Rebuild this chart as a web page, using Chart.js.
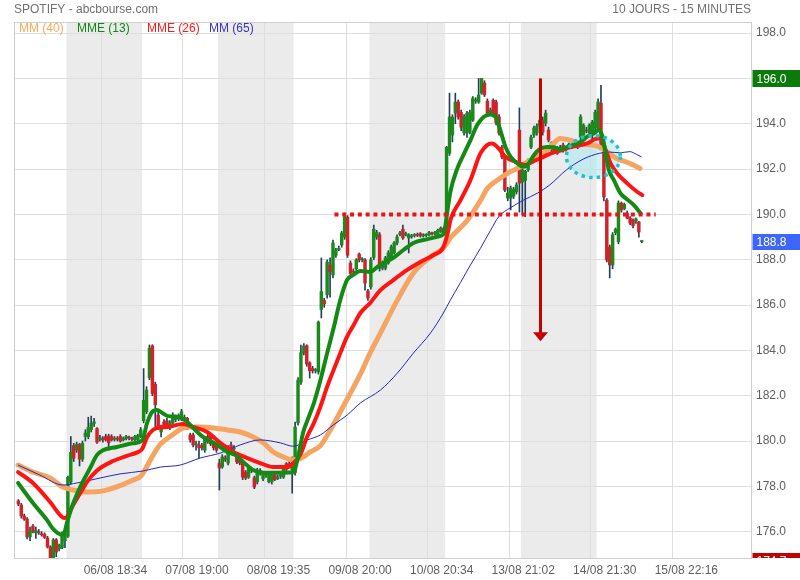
<!DOCTYPE html>
<html lang="fr">
<head>
<meta charset="utf-8">
<title>SPOTIFY - abcbourse.com</title>
<script src="https://cdn.jsdelivr.net/npm/chart.js@4.4.1/dist/chart.umd.min.js"></script>
<style>
html, body { margin: 0; padding: 0; background: #ffffff; }
canvas { display: block; }
</style>
</head>
<body>
<canvas id="chart" width="800" height="580" style="width:800px;height:580px"></canvas>
<script>
// ---------- texts ----------
const chartTitle = 'SPOTIFY - abcbourse.com';
const periodLabel = '10 JOURS - 15 MINUTES';
const maLabels = ['MM (40)', 'MME (13)', 'MME (26)', 'MM (65)'];

// ---------- x axis (15-minute slots) ----------
const slotCount = 253;
const xTickBars = [30, 58, 86, 114, 142, 170, 198, 226];
const xTickLabels = ['06/08 18:34', '07/08 19:00', '08/08 19:35', '09/08 20:00',
                     '10/08 20:34', '13/08 21:02', '14/08 21:30', '15/08 22:16'];
const shadedDays = [[18, 43], [70, 95], [122, 147], [174, 199]];

// ---------- y axis ----------
const yMin = 174.84, yMax = 198.49;
const yTicks = [176, 178, 180, 182, 184, 186, 188, 190, 192, 194, 196, 198];

// ---------- OHLC (one value per 15-minute bar) ----------
const opens = [
  null, 177.36, 177.18, 176.70, 176.56, 175.77, 176.25, 175.95, 176.00, 175.90, 175.88, 175.72, 175.33, 174.85, 175.64, 175.25, 175.30, 175.60,
  175.80, 178.20, 179.80, 179.60, 179.85, 179.20, 180.20, 180.20, 180.50, 180.78, 180.55, 180.10, 180.10, 180.20, 180.22, 180.20, 180.08, 180.12, 180.20, 180.05, 180.10, 180.15, 180.10, 180.05, 180.05, 180.20,
  180.90, 181.30, 182.80, 184.20, 182.50, 181.15, 180.40, 180.84, 180.90, 180.62, 180.80, 180.95, 181.05, 180.98, 181.05, 181.00, 180.27, 180.27, 179.83, 179.83, 179.80, 179.60, 180.20, 180.22, 179.92, 179.83,
  179.03, 178.86, 179.25, 179.03, 179.83, 179.65, 179.40, 179.25, 179.08, 178.63, 178.41, 178.75, 178.37, 178.20, 178.60, 178.33, 178.50, 178.20, 178.20, 178.50, 178.35, 178.45, 178.41, 179.00, 179.00, 178.72,
  178.60, 180.80, 182.60, 183.90, 184.20, 183.45, 183.20, 183.10, 183.05, 185.80, 186.20, 186.45, 187.77, 187.33, 188.20, 188.45, 188.65, 189.00, 189.88, 187.85, 187.50, 187.60, 188.25, 188.00, 187.99, 186.62,
  186.80, 188.10, 189.00, 189.10, 187.63, 187.63, 187.85, 188.08, 188.30, 188.74, 189.12, 189.35, 189.10, 188.96, 189.02, 189.08, 189.12, 189.15, 189.05, 189.08, 189.10, 189.18, 189.14, 189.10, 189.25, 189.38,
  189.20, 192.70, 193.50, 194.47, 194.96, 194.50, 193.60, 193.59, 193.63, 194.16, 195.00, 194.96, 195.35, 195.80, 195.00, 194.50, 195.04, 194.96, 194.30, 192.97, 192.53, 190.72, 190.72, 190.80, 191.00, 193.72,
  191.43, 191.50, 191.96, 192.97, 193.50, 193.60, 193.90, 194.16, 194.03, 193.72, 192.84, 192.97, 192.90, 192.93, 193.06, 192.88, 192.95, 193.02, 193.02, 192.97, 193.41, 193.50, 193.72, 193.60, 193.63, 193.81,
  193.81, 194.90, 193.10, 190.63, 188.56, 187.77, 189.20, 188.80, 190.50, 190.25, 190.06, 189.84, 189.75, 189.70, 189.66, 188.80
];
const highs = [
  null, 177.42, 177.25, 176.78, 176.62, 176.20, 176.32, 176.20, 176.10, 176.00, 175.95, 175.80, 175.38, 175.70, 175.70, 175.45, 176.00, 176.00,
  178.45, 180.20, 179.90, 179.95, 179.90, 180.00, 180.50, 181.05, 181.10, 181.00, 180.60, 180.25, 180.20, 180.30, 180.30, 180.28, 180.20, 180.20, 180.28, 180.18, 180.25, 180.22, 180.18, 180.25, 180.30, 180.60,
  183.20, 182.40, 184.24, 184.25, 182.60, 181.30, 180.70, 180.95, 181.00, 180.90, 181.25, 181.15, 181.20, 181.40, 181.15, 181.05, 180.35, 180.35, 180.00, 180.00, 179.90, 180.20, 180.30, 180.30, 180.00, 179.90,
  179.20, 179.40, 179.35, 179.80, 179.95, 179.80, 179.50, 179.35, 179.15, 178.70, 178.90, 178.85, 178.45, 178.80, 178.78, 178.65, 178.60, 178.65, 178.55, 178.55, 178.50, 178.55, 178.90, 179.05, 179.10, 179.30,
  180.84, 182.80, 184.24, 184.30, 184.25, 183.50, 183.30, 183.20, 185.30, 188.08, 186.30, 188.00, 188.08, 188.87, 188.50, 188.60, 189.25, 190.06, 189.95, 187.95, 187.60, 188.05, 188.30, 188.10, 188.05, 186.70,
  188.10, 189.53, 189.30, 189.20, 187.95, 188.15, 188.40, 188.65, 188.80, 189.10, 189.25, 189.53, 189.22, 189.15, 189.12, 189.15, 189.18, 189.20, 189.15, 189.15, 189.25, 189.22, 189.25, 189.35, 189.45, 189.45,
  193.00, 195.35, 194.40, 195.35, 195.05, 194.60, 194.40, 194.55, 194.60, 195.20, 195.15, 196.00, 196.00, 195.90, 195.10, 194.70, 195.10, 195.05, 194.40, 193.05, 192.60, 191.20, 191.25, 191.20, 191.40, 194.70,
  192.00, 191.95, 192.45, 193.50, 193.90, 194.00, 194.30, 194.30, 194.60, 193.85, 193.20, 193.05, 193.00, 193.05, 193.15, 192.98, 193.15, 193.10, 193.12, 193.25, 194.40, 194.00, 193.85, 194.00, 194.15, 194.60,
  195.10, 195.70, 193.20, 190.70, 188.65, 189.20, 189.40, 190.60, 190.55, 190.50, 190.15, 189.90, 189.80, 189.85, 189.70, 188.85
];
const lows = [
  null, 177.15, 176.60, 176.50, 175.68, 175.60, 175.95, 175.70, 175.88, 175.80, 175.70, 175.28, 174.70, 174.80, 174.90, 175.15, 175.25, 175.30,
  175.75, 178.10, 179.10, 179.50, 178.90, 179.10, 180.00, 180.10, 180.40, 180.65, 179.90, 180.00, 179.95, 180.00, 179.60, 180.00, 180.00, 180.00, 179.95, 180.00, 180.05, 180.05, 180.02, 180.00, 180.00, 180.15,
  180.80, 181.20, 182.70, 182.00, 180.60, 180.50, 180.18, 180.55, 180.55, 180.50, 180.70, 180.85, 180.90, 180.90, 180.90, 180.50, 179.95, 179.74, 179.60, 179.25, 179.60, 179.50, 179.90, 179.80, 179.60, 179.50,
  177.84, 178.80, 179.10, 178.95, 179.50, 179.55, 179.00, 178.95, 178.30, 178.30, 178.35, 178.60, 177.90, 178.10, 178.50, 178.25, 178.40, 178.15, 178.10, 178.25, 178.30, 178.35, 178.35, 178.70, 178.85, 177.70,
  178.50, 180.70, 182.50, 183.80, 183.30, 182.78, 183.00, 183.00, 182.95, 185.43, 185.90, 186.30, 186.35, 187.20, 188.10, 188.40, 188.55, 188.90, 188.10, 187.30, 187.35, 187.50, 187.90, 187.90, 186.66, 186.20,
  186.70, 188.00, 188.90, 187.50, 187.55, 187.55, 187.80, 188.00, 188.25, 188.65, 189.05, 188.90, 189.05, 188.30, 188.95, 189.00, 189.02, 189.00, 189.00, 189.02, 189.05, 189.08, 189.10, 189.05, 189.20, 189.15,
  189.10, 192.60, 193.20, 194.00, 194.20, 193.70, 193.50, 193.40, 193.55, 194.10, 194.90, 194.90, 195.30, 195.20, 194.40, 194.40, 194.30, 193.95, 193.50, 192.45, 191.00, 190.60, 190.20, 190.70, 190.90, 190.10,
  190.00, 189.90, 191.90, 192.90, 193.40, 193.50, 193.70, 193.50, 193.90, 193.20, 192.75, 192.70, 192.65, 192.85, 192.75, 192.80, 192.90, 192.90, 192.95, 192.90, 193.30, 193.40, 193.60, 193.50, 193.20, 193.70,
  193.70, 192.90, 190.60, 187.90, 187.20, 187.60, 189.10, 188.70, 190.10, 190.20, 189.80, 189.55, 189.40, 189.60, 189.00, 188.75
];
const closes = [
  null, 177.22, 176.70, 176.55, 175.77, 176.04, 175.99, 176.05, 175.95, 175.86, 175.75, 175.33, 174.85, 175.64, 175.10, 175.40, 175.95, 175.90,
  178.40, 179.50, 179.25, 179.85, 179.20, 179.90, 180.35, 180.60, 180.80, 180.85, 179.95, 180.15, 180.05, 180.05, 179.92, 180.05, 180.12, 180.08, 180.00, 180.12, 180.20, 180.13, 180.08, 180.20, 180.25, 180.50,
  181.80, 182.25, 184.10, 182.10, 181.60, 180.62, 180.62, 180.62, 180.62, 180.80, 181.15, 181.05, 181.00, 181.30, 181.00, 180.60, 180.05, 179.83, 179.85, 179.70, 179.70, 180.14, 179.96, 179.87, 179.70, 179.60,
  178.81, 179.30, 179.20, 179.70, 179.60, 179.70, 179.08, 179.03, 178.41, 178.37, 178.81, 178.70, 177.97, 178.72, 178.70, 178.59, 178.52, 178.59, 178.50, 178.30, 178.42, 178.47, 178.81, 178.75, 178.90, 179.03,
  180.62, 182.69, 183.90, 184.20, 183.40, 183.10, 183.10, 183.15, 185.25, 186.60, 186.05, 187.90, 187.46, 188.74, 188.43, 188.50, 189.18, 189.90, 188.20, 187.40, 187.45, 187.99, 187.99, 188.02, 186.97, 186.31,
  187.99, 189.35, 189.20, 187.63, 187.85, 188.08, 188.30, 188.56, 188.74, 189.00, 189.18, 188.96, 189.15, 189.10, 189.06, 189.12, 189.08, 189.05, 189.10, 189.12, 189.20, 189.14, 189.20, 189.30, 189.40, 189.20,
  192.97, 194.30, 194.30, 194.96, 194.30, 193.85, 194.30, 194.47, 194.50, 195.13, 195.04, 195.27, 196.00, 195.27, 194.47, 194.60, 194.38, 194.03, 193.59, 192.53, 191.07, 190.94, 191.16, 191.10, 191.30, 191.38,
  191.96, 191.90, 192.40, 193.41, 193.81, 193.90, 194.16, 193.63, 194.47, 193.28, 193.15, 192.75, 192.70, 192.97, 192.84, 192.92, 193.10, 193.00, 193.06, 193.19, 194.30, 193.94, 193.68, 193.94, 194.07, 194.50,
  194.96, 193.10, 190.77, 187.99, 187.77, 189.10, 189.35, 190.50, 190.20, 190.45, 189.84, 189.62, 189.50, 189.80, 189.22, 188.80
];

// ---------- moving averages: [bar slot, value] ----------
const mm40 = [[0.9,178.94],[6.0,178.63],[11.9,178.37],[16.3,177.97],[19.8,177.84],[24.6,177.75],[30.1,177.8],[35.9,178.03],[40.4,178.28],[43.0,178.45],[45.2,178.9],[47.3,179.39],[49.7,179.85],[53.1,180.2],[57.6,180.58],[60.0,180.62],[63.4,180.62],[67.9,180.58],[72.7,180.49],[77.2,180.4],[81.6,180.18],[85.1,179.92],[88.5,179.52],[91.9,179.3],[95.4,179.17],[98.8,179.3],[101.2,179.52],[104.7,179.8],[108.1,180.49],[111.5,181.28],[115.0,182.12],[118.4,182.95],[121.8,183.9],[125.3,184.77],[131.1,186.22],[136.6,187.41],[142.5,188.12],[146.9,188.52],[149.3,188.96],[155.2,189.75],[159.7,190.63],[162.0,191.15],[165.5,191.52],[168.9,191.81],[172.3,192.03],[175.8,192.32],[179.2,192.54],[182.6,192.84],[184.5,193.1],[186.9,193.35],[190.4,193.28],[194.9,193.1],[199.5,193.02],[203.0,192.77],[206.4,192.47],[211.0,192.25],[214.4,192.03]];
const mme13 = [[0.9,178.15],[6.0,177.27],[10.8,176.52],[12.9,176.12],[16.0,175.86],[16.8,175.95],[17.7,176.4],[19.4,177.1],[22.9,178.15],[25.6,178.8],[28.0,179.39],[30.1,179.6],[34.9,179.74],[40.4,179.9],[43.5,180.02],[45.2,180.8],[46.9,181.28],[48.6,181.37],[50.4,181.24],[52.4,181.1],[55.9,181.06],[59.0,180.84],[61.0,180.58],[64.4,180.18],[69.3,179.83],[72.7,179.52],[75.4,179.39],[78.2,179.08],[81.6,178.72],[85.1,178.6],[88.5,178.6],[91.9,178.6],[95.4,178.62],[97.0,179.3],[98.8,180.4],[100.2,180.9],[102.5,181.7],[104.7,182.69],[107.0,183.88],[109.3,185.03],[111.5,186.22],[113.8,187.1],[116.0,187.33],[118.4,187.5],[121.8,187.46],[124.2,187.68],[126.3,187.85],[129.7,188.08],[133.2,188.43],[136.6,188.74],[141.4,188.91],[145.9,189.05],[147.2,189.18],[147.9,189.8],[149.3,191.0],[151.6,192.0],[153.9,192.65],[156.2,193.28],[158.5,193.94],[160.8,194.31],[163.1,194.41],[164.8,194.31],[165.9,193.94],[167.1,193.43],[168.2,192.98],[170.0,192.54],[172.3,192.25],[174.5,192.1],[176.2,192.25],[178.0,192.62],[180.3,192.91],[182.6,192.98],[184.8,192.96],[187.1,192.87],[189.4,192.98],[194.0,193.2],[196.3,193.43],[198.6,193.58],[200.3,193.72],[201.5,193.43],[202.6,192.69],[203.7,191.96],[205.4,191.52],[207.7,190.93],[209.5,190.71],[212.3,190.41],[214.6,190.05]];
const mme26 = [[0.9,178.63],[6.0,178.15],[11.9,177.31],[16.0,176.65],[17.0,176.6],[19.8,177.18],[22.2,177.7],[24.6,178.2],[28.0,178.7],[33.5,179.12],[38.3,179.35],[41.8,179.5],[43.5,179.65],[45.2,180.18],[47.3,180.5],[49.7,180.6],[52.1,180.62],[57.6,180.75],[61.0,180.62],[65.8,180.4],[70.3,179.92],[74.8,179.52],[79.6,179.25],[84.0,179.03],[88.5,178.85],[93.3,178.85],[95.4,179.03],[97.8,179.4],[100.1,180.19],[102.4,180.78],[104.7,181.52],[107.0,182.4],[109.2,183.13],[111.5,183.88],[113.8,184.6],[116.1,185.12],[118.4,185.65],[121.8,186.1],[125.3,186.66],[129.7,187.1],[134.5,187.55],[139.0,187.9],[143.5,188.21],[146.9,188.56],[148.6,189.3],[149.3,189.75],[152.8,190.63],[156.2,191.52],[159.6,192.69],[161.9,193.06],[163.6,193.13],[165.9,192.91],[168.2,192.54],[171.7,192.32],[175.1,192.18],[177.4,192.32],[180.9,192.52],[184.3,192.72],[187.7,192.84],[190.2,192.96],[196.3,193.13],[199.7,193.35],[200.9,193.35],[202.6,192.84],[204.3,192.25],[206.6,191.81],[210.0,191.37],[213.4,191.0],[215.2,190.85]];
const mm65 = [[0.9,178.94],[8.4,178.5],[16.3,178.06],[21.1,178.15],[29.1,178.37],[35.9,178.55],[43.8,178.68],[49.7,178.85],[56.5,178.94],[63.4,179.25],[70.3,179.47],[77.2,179.83],[84.0,180.05],[90.9,179.92],[95.4,179.77],[100.2,180.05],[104.7,180.27],[109.1,180.71],[113.9,181.15],[118.4,181.68],[125.3,182.25],[131.1,183.0],[136.6,183.88],[142.5,184.77],[146.9,185.65],[149.3,186.22],[152.8,187.0],[156.2,187.77],[159.6,188.5],[163.1,189.3],[165.9,189.9],[170.0,190.3],[174.4,190.63],[179.2,190.94],[183.4,191.3],[189.1,191.96],[194.9,192.44],[200.6,192.7],[204.0,192.75],[207.5,192.72],[210.9,192.77],[213.2,192.65],[214.9,192.54]];

// ---------- drawn annotations (values / bar slots) ----------
const supportLevel = 190.0, supportStartBar = 109.5, supportEndBar = 219.8;
const arrowBar = 179.9, arrowTop = 196.0, arrowTip = 184.4;
const circleBar = 198.4, circleLevel = 192.55;

// ---------- styles ----------
const FONT = '"Liberation Sans", Arial, sans-serif';
const COL = {
  up: '#1b8a1b', down: '#d42029', wick: '#223f5c',
  orange: '#f5a561', green: '#138a13', red: '#ff1414', blue: '#2626c4',
  grid: '#dedede', border: '#cfcfcf', shade: '#ebebeb', text: '#5f5f5f', title: '#707070'
};
const legendColors = ['#ffa85a', '#118811', '#ff1a1a', '#3535c0'];
const legendX = [19, 77, 147, 209];

Chart.defaults.font.family = FONT;

const barIdx = opens.map((_, i) => i).filter(i => opens[i] !== null);
const asPoints = arr => arr.map(([x, y]) => ({ x, y }));
const lastClose = closes[closes.length - 1];
const maxHigh = Math.max(...highs.filter(v => v !== null));
const minLow = Math.min(...lows.filter(v => v !== null));

const decor = {
  id: 'decor',
  beforeDraw(chart) {
    const { ctx, chartArea: a, scales: { x } } = chart;
    ctx.save();
    ctx.fillStyle = COL.shade;
    shadedDays.forEach(([s, e]) => {
      const x1 = x.getPixelForValue(s - 0.5), x2 = x.getPixelForValue(e + 0.5);
      ctx.fillRect(x1, a.top, x2 - x1, a.bottom - a.top);
    });
    ctx.restore();
  },
  beforeDatasetsDraw(chart) {
    const { ctx, chartArea: a, scales: { x, y } } = chart;
    ctx.save();
    ctx.strokeStyle = COL.border; ctx.lineWidth = 1;
    ctx.beginPath();
    ctx.moveTo(a.left + 0.5, a.bottom); ctx.lineTo(a.left + 0.5, a.top + 0.5); ctx.lineTo(a.right, a.top + 0.5);
    ctx.stroke();
    ctx.fillStyle = 'rgba(165,232,238,0.55)';
    ctx.beginPath();
    ctx.ellipse(x.getPixelForValue(circleBar), y.getPixelForValue(circleLevel), 27, 21, 0, 0, Math.PI * 2);
    ctx.fill();
    ctx.restore();
  },
  afterDatasetsDraw(chart) {
    const { ctx, scales: { x, y } } = chart;
    ctx.save();
    const ly = y.getPixelForValue(supportLevel);
    ctx.strokeStyle = '#ec1515'; ctx.lineWidth = 4; ctx.setLineDash([4, 3.8]);
    ctx.beginPath();
    ctx.moveTo(x.getPixelForValue(supportStartBar), ly);
    ctx.lineTo(x.getPixelForValue(supportEndBar), ly);
    ctx.stroke();
    const ax = Math.round(x.getPixelForValue(arrowBar)) + 0.5;
    const y1 = y.getPixelForValue(arrowTop), y2 = y.getPixelForValue(arrowTip);
    ctx.setLineDash([]);
    ctx.strokeStyle = '#c80000'; ctx.fillStyle = '#c80000'; ctx.lineWidth = 3;
    ctx.beginPath(); ctx.moveTo(ax, y1); ctx.lineTo(ax, y2 - 8); ctx.stroke();
    ctx.beginPath(); ctx.moveTo(ax - 7.5, y2 - 9); ctx.lineTo(ax + 7.5, y2 - 9); ctx.lineTo(ax, y2); ctx.closePath(); ctx.fill();
    ctx.strokeStyle = '#1cc3cf'; ctx.lineWidth = 3.5; ctx.setLineDash([3.5, 4.2]);
    ctx.beginPath();
    ctx.ellipse(x.getPixelForValue(circleBar), y.getPixelForValue(circleLevel), 27, 21, 0, 0, Math.PI * 2);
    ctx.stroke();
    ctx.restore();
  },
  afterDraw(chart) {
    const { ctx, chartArea: a, scales: { y } } = chart;
    ctx.save();
    ctx.font = '12px ' + FONT; ctx.fillStyle = COL.title; ctx.textBaseline = 'alphabetic';
    ctx.textAlign = 'left'; ctx.fillText(chartTitle, 14, 13);
    ctx.textAlign = 'right'; ctx.fillText(periodLabel, a.right, 13);
    ctx.textAlign = 'left';
    maLabels.forEach((t, i) => { ctx.fillStyle = legendColors[i]; ctx.fillText(t, legendX[i], 32); });
    const box = (val, color, h) => {
      const cy = y.getPixelForValue(val);
      ctx.fillStyle = color;
      ctx.fillRect(a.right + 1.5, Math.round(cy - h / 2), 800 - a.right, h);
      ctx.fillStyle = '#ffffff'; ctx.textBaseline = 'middle'; ctx.textAlign = 'left';
      ctx.fillText(val.toFixed(1), a.right + 5.5, cy + 1);
    };
    box(maxHigh, '#0b7a0b', 17);
    box(lastClose, '#3d66ff', 16);
    ctx.save();
    ctx.beginPath(); ctx.rect(a.right, 0, 800 - a.right, a.bottom); ctx.clip();
    box(minLow, '#c40000', 17);
    ctx.restore();
    ctx.restore();
  }
};

new Chart(document.getElementById('chart'), {
  type: 'bar',
  data: {
    datasets: [
      { type: 'line', label: maLabels[1], data: asPoints(mme13), borderColor: COL.green, borderWidth: 4,
        pointRadius: 0, cubicInterpolationMode: 'monotone', borderJoinStyle: 'round', borderCapStyle: 'round', order: 1 },
      { type: 'line', label: maLabels[2], data: asPoints(mme26), borderColor: COL.red, borderWidth: 4,
        pointRadius: 0, cubicInterpolationMode: 'monotone', borderJoinStyle: 'round', borderCapStyle: 'round', order: 2 },
      { type: 'line', label: maLabels[3], data: asPoints(mm65), borderColor: COL.blue, borderWidth: 1,
        pointRadius: 0, cubicInterpolationMode: 'monotone', order: 3 },
      { type: 'line', label: maLabels[0], data: asPoints(mm40), borderColor: COL.orange, borderWidth: 5,
        pointRadius: 0, cubicInterpolationMode: 'monotone', borderJoinStyle: 'round', borderCapStyle: 'round', order: 4 },
      { type: 'bar', label: 'corps', data: barIdx.map(i => ({ x: i, y: [opens[i], closes[i]] })),
        backgroundColor: barIdx.map(i => closes[i] >= opens[i] ? COL.up : COL.down),
        barThickness: 2.8, minBarLength: 1, grouped: false, borderWidth: 0, order: 9 },
      { type: 'bar', label: 'mèches', data: barIdx.map(i => ({ x: i, y: [lows[i], highs[i]] })),
        backgroundColor: COL.wick, barThickness: 1, grouped: false, borderWidth: 0, order: 10 }
    ]
  },
  options: {
    responsive: false,
    animation: false,
    devicePixelRatio: 1,
    layout: { padding: { left: 14, top: 22, right: 0, bottom: 0 } },
    plugins: { legend: { display: false }, tooltip: { enabled: false }, title: { display: false } },
    scales: {
      x: {
        type: 'linear', min: -0.5, max: slotCount - 0.5, offset: false,
        grid: { color: COL.grid, drawTicks: false, offset: false },
        border: { color: COL.border },
        afterBuildTicks: s => { s.ticks = xTickBars.map(b => ({ value: b - 0.5 })); },
        afterFit: s => { s.height = 22; },
        ticks: {
          autoSkip: false, maxRotation: 0, padding: 5, labelOffset: 14,
          color: COL.text, font: { size: 12 },
          callback: (v, i) => xTickLabels[i]
        }
      },
      y: {
        type: 'linear', position: 'right', min: yMin, max: yMax,
        grid: { color: COL.grid, drawTicks: false },
        border: { color: COL.border },
        afterBuildTicks: s => { s.ticks = yTicks.map(v => ({ value: v })); },
        afterFit: s => { s.width = 49; },
        ticks: { padding: 5, color: COL.text, font: { size: 12 }, callback: v => Number(v).toFixed(1) }
      }
    }
  },
  plugins: [decor]
});
</script>
</body>
</html>
